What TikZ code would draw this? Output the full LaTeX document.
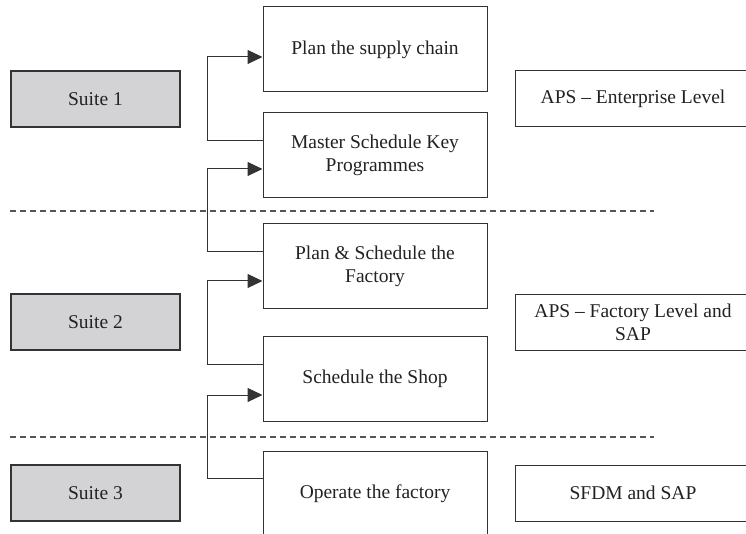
\documentclass[tikz,border=0pt]{standalone}
\usepackage{fontspec}
\setmainfont{Liberation Serif}
\usetikzlibrary{arrows.meta}
\definecolor{linec}{HTML}{333333}
\definecolor{textc}{HTML}{222222}
\definecolor{suitefill}{HTML}{D3D3D5}
\definecolor{dashc}{HTML}{555555}
\tikzset{
  box/.style={draw=linec, line width=1pt, fill=white, text=textc, minimum width=224pt, minimum height=85pt, align=center, inner sep=0pt, font=\fontsize{19.5}{23}\selectfont},
  suite/.style={draw=linec, line width=1.1pt, fill=suitefill, text=textc, minimum width=169pt, minimum height=56pt, inner sep=0pt, font=\fontsize{19.5}{23}\selectfont},
  sysbox/.style={draw=linec, line width=1pt, fill=white, text=textc, minimum width=236pt, minimum height=56pt, align=center, inner sep=0pt, font=\fontsize{19.5}{23}\selectfont},
  conn/.style={draw=linec, line width=1pt, -{Triangle[length=15pt,width=14pt]}},
  sep/.style={draw=dashc, line width=1.3pt, dash pattern=on 6pt off 4pt}
}
\begin{document}
\begin{tikzpicture}[x=1pt,y=-1pt]
\useasboundingbox (0,0) rectangle (746,534);
% dashed separators
\coordinate (d1a) at (10,211); \coordinate (d1b) at (654,211);
\coordinate (d2a) at (10,437); \coordinate (d2b) at (654,437);
\draw[sep] (d1a) -- (d1b);
\draw[sep] (d2a) -- (d2b);
% suites
\node[suite] (s1) at (95.5,99) {Suite 1};
\node[suite] (s2) at (95.5,322) {Suite 2};
\node[suite] (s3) at (95.5,493) {Suite 3};
% process boxes
\node[box] (p1) at (375,49.5) {Plan the supply chain};
\node[box] (p2) at (375,155) {Master Schedule Key\\Programmes};
\node[box] (p3) at (375,266) {Plan \& Schedule the\\Factory};
\node[box] (p4) at (375,379) {Schedule the Shop};
\node[box] (p5) at (375,494) {Operate the factory};
% system boxes
\node[sysbox] (r1) at (633,99) {APS -- Enterprise Level};
\node[sysbox] (r2) at (633,322.5) {APS -- Factory Level and\\SAP};
\node[sysbox] (r3) at (633,493) {SFDM and SAP};
% connectors
\coordinate (c1a) at (207,141); \coordinate (c1b) at (207,57);
\coordinate (c2a) at (207,252); \coordinate (c2b) at (207,169);
\coordinate (c3a) at (207,364); \coordinate (c3b) at (207,281);
\coordinate (c4a) at (207,478); \coordinate (c4b) at (207,395);
\draw[conn] (p2.west |- c1a) -- (c1a) -- (c1b) -- (p1.west |- c1b);
\draw[conn] (p3.west |- c2a) -- (c2a) -- (c2b) -- (p2.west |- c2b);
\draw[conn] (p4.west |- c3a) -- (c3a) -- (c3b) -- (p3.west |- c3b);
\draw[conn] (p5.west |- c4a) -- (c4a) -- (c4b) -- (p4.west |- c4b);
\end{tikzpicture}
\end{document}
